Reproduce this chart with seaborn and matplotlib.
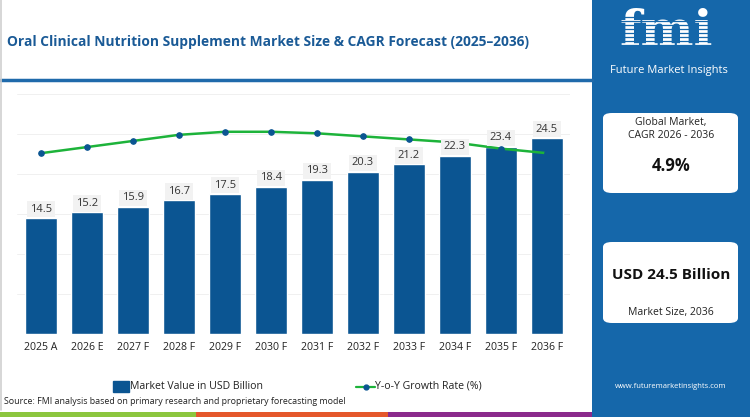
import matplotlib
matplotlib.use("Agg")
import matplotlib.pyplot as plt
import seaborn as sns
import pandas as pd
from matplotlib.patches import Rectangle, FancyBboxPatch
from matplotlib.lines import Line2D

years = ["2025 A", "2026 E", "2027 F", "2028 F", "2029 F", "2030 F",
         "2031 F", "2032 F", "2033 F", "2034 F", "2035 F", "2036 F"]
market_value = [14.5, 15.2, 15.9, 16.7, 17.5, 18.4, 19.3, 20.3, 21.2, 22.3, 23.4, 24.5]
growth_rate = [4.6, 4.8, 5.0, 5.2, 5.3, 5.3, 5.25, 5.15, 5.05, 4.95, 4.75, 4.6]

title = "Oral Clinical Nutrition Supplement Market Size & CAGR Forecast (2025\u20132036)"
source = "Source: FMI analysis based on primary research and proprietary forecasting model"

BAR = "#0b5592"
PANEL = "#1567aa"
GREEN = "#1db33a"
TITLE_C = "#1a5a96"

sns.set_theme(style="white")
plt.rcParams['font.family'] = ['Open Sans', 'DejaVu Sans']

fig = plt.figure(figsize=(7.5, 4.17), dpi=100)
W, H = 750, 417

def fx(x): return x / W
def fy(y): return 1 - y / H

# Title area
fig.text(fx(7), fy(42), title, fontsize=9.9, fontweight='bold', color=TITLE_C,
         va='center', ha='left')
fig.add_artist(Line2D([0, fx(592)], [fy(80), fy(80)], color="#1f6aab", lw=2.5,
                      transform=fig.transFigure))
fig.add_artist(Line2D([fx(0.8), fx(0.8)], [fy(0), fy(410)], color="#d0d0d0", lw=1.2,
                      transform=fig.transFigure))

# Main axes
ax = fig.add_axes([fx(17), fy(334), fx(570) - fx(17), fy(94) - fy(334)])
df = pd.DataFrame({"year": years, "value": market_value, "growth": growth_rate})
sns.barplot(data=df, x="year", y="value", color=BAR, width=0.71, ax=ax,
            saturation=1, zorder=2)
ax.set_ylim(0, 30)
ax.set_xlim(-0.52, 11.5)
ax.set_yticks([0, 5, 10, 15, 20, 25, 30])
ax.set_yticklabels([])
ax.tick_params(axis='y', length=0)
ax.grid(axis='y', color="#f0f0f0", lw=0.7, zorder=0)
ax.set_axisbelow(True)
for s in ax.spines.values():
    s.set_visible(False)
ax.set_xlabel("")
ax.set_ylabel("")
ax.tick_params(axis='x', length=0, pad=6, labelsize=7.6, labelcolor="#222222")
ax.set_xticks([i + 0.5 for i in range(-1, 12)], minor=True)
ax.tick_params(axis='x', which='minor', length=3, color="#d5d5d5", width=0.8)

ax2 = ax.twinx()
sns.lineplot(data=df, x="year", y="growth", ax=ax2, color=GREEN, lw=1.8,
             marker='o', markersize=4, markerfacecolor=BAR, markeredgecolor=BAR,
             zorder=4, sort=False)
top = 4.6 + (153.2 - 94) / 30.6
bottom = 4.6 - (334 - 153.2) / 30.6
ax2.set_ylim(bottom, top)
ax2.set_yticks([])
ax2.set_ylabel("")
for s in ax2.spines.values():
    s.set_visible(False)

for i, v in enumerate(market_value):
    ax2.text(i, v + 1.1, f"{v}", ha='center', va='center', fontsize=8, color="#333333",
             zorder=6, transform=ax.transData,
             bbox=dict(boxstyle='square,pad=0.25', fc="#f2f2f2", ec='none'))

# Legend
fig.add_artist(Rectangle((fx(113), fy(392)), fx(129) - fx(113), fy(381) - fy(392),
                         transform=fig.transFigure, color=BAR))
fig.text(fx(130), fy(386.5), "Market Value in USD Billion", fontsize=7.6, color="#222222",
         va='center', ha='left')
fig.add_artist(Line2D([fx(356), fx(375)], [fy(386.5), fy(386.5)], color=GREEN, lw=1.6,
                      transform=fig.transFigure))
fig.add_artist(Line2D([fx(365.5)], [fy(386.5)], color=BAR, marker='o', markersize=3.5,
                      transform=fig.transFigure))
fig.text(fx(375), fy(386.5), "Y-o-Y Growth Rate (%)", fontsize=7.6, color="#222222",
         va='center', ha='left')

fig.text(fx(4), fy(402), source, fontsize=6.4, color="#222222", va='center', ha='left')

# Bottom color strip
for x0, x1, c in [(0, 196, "#8cc63e"), (196, 388, "#e5572b"), (388, 592, "#8b2a8c")]:
    fig.add_artist(Rectangle((fx(x0), 0), fx(x1) - fx(x0), fy(411.5), transform=fig.transFigure,
                             color=c, lw=0))

# Right panel
fig.add_artist(Rectangle((fx(592), 0), 1 - fx(592), 1, transform=fig.transFigure,
                         color=PANEL, lw=0, zorder=0))
fig.text(fx(666), fy(33), "fmi", fontsize=36, fontweight='bold', family=['DejaVu Serif'],
         color="white", ha='center', va='center')
for yy in range(17, 58, 4):
    fig.add_artist(Line2D([fx(612), fx(722)], [fy(yy), fy(yy)], color=PANEL, lw=0.9,
                          transform=fig.transFigure, zorder=5))
fig.text(fx(669), fy(70), "Future Market Insights", fontsize=8, color="white",
         ha='center', va='center')

for (y0, y1) in [(113, 193), (242, 323)]:
    fig.add_artist(FancyBboxPatch((fx(603), fy(y1)), fx(738) - fx(603), fy(y0) - fy(y1),
                                  boxstyle="round,pad=0,rounding_size=0.012",
                                  transform=fig.transFigure, fc="white", ec='none'))
fig.text(fx(671), fy(123), "Global Market,", fontsize=7.5, color="#222222", ha='center', va='center')
fig.text(fx(671), fy(136), "CAGR 2026 - 2036", fontsize=7.5, color="#222222", ha='center', va='center')
fig.text(fx(671), fy(166), "4.9%", fontsize=12, fontweight='bold', color="#111111", ha='center', va='center')
fig.text(fx(671), fy(275), "USD 24.5 Billion", fontsize=11, fontweight='bold', color="#111111", ha='center', va='center')
fig.text(fx(671), fy(313), "Market Size, 2036", fontsize=7.5, color="#222222", ha='center', va='center')
fig.text(fx(671), fy(387), "www.futuremarketinsights.com", fontsize=5.5, color="white", ha='center', va='center')

fig.savefig("out.png", dpi=100)
